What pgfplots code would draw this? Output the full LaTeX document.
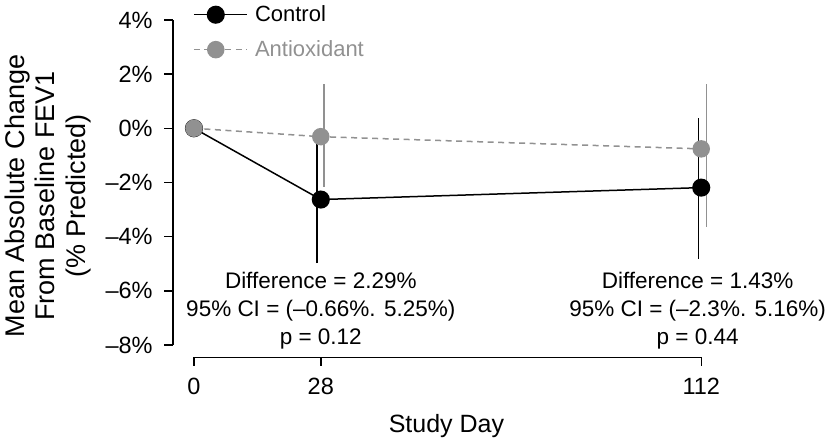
\documentclass[border=0pt]{standalone}
\usepackage{pgfplots}
\pgfplotsset{compat=1.18}
\usepackage{fontspec}
\setmainfont{Liberation Sans}
\definecolor{ctrl}{RGB}{0,0,0}
\definecolor{anti}{RGB}{145,145,145}
\newcommand{\fs}{\fontsize{22.5bp}{30bp}\selectfont}
\newcommand{\fl}{\fontsize{22bp}{30bp}\selectfont}
\newcommand{\ft}{\fontsize{23.5bp}{28bp}\selectfont}
\newcommand{\fx}{\fontsize{25bp}{30bp}\selectfont}
\newcommand{\fy}{\fontsize{27bp}{30.5bp}\selectfont}
\begin{document}
\begin{tikzpicture}
\useasboundingbox (0,0) rectangle (828bp,-438bp);
\begin{axis}[
  at={(172.7bp,-357.3bp)}, anchor=south west,
  x=4.529bp, y=27.09bp,
  xmin=-4.7, xmax=125, ymin=-8.454, ymax=4.3,
  clip=false,
  axis x line*=bottom, axis y line*=left,
  axis line style={draw=none},
  tick align=outside, major tick length=8.6bp,
  tick style={black, line width=1.4bp},
  xtick={0,28,112}, xticklabels={0,28,112},
  ytick={-8,-6,-4,-2,0,2,4},
  yticklabels={–8\%,–6\%,–4\%,–2\%,0\%,2\%,4\%},
  tick label style={font=\ft},
  xticklabel style={yshift=-8.5bp},
  yticklabel style={xshift=-8bp},
  xlabel={Study Day},
  xlabel style={font=\fx, at={(axis description cs:0.466,-0.2162)}, anchor=base},
  ylabel={Mean Absolute Change\\From Baseline FEV1\\(\% Predicted)},
  ylabel style={font=\fy, at={(axis description cs:-0.2123,0.467)}, anchor=center, align=center},
  legend style={draw=none, fill=none, at={(axis description cs:0.0346,1.0168)}, anchor=north west,
    inner sep=0pt, outer sep=0pt, row sep=17.5bp, font=\fl,
    nodes={inner sep=0pt, anchor=west},
    /tikz/every odd column/.append style={column sep=7.5bp}},
  legend cell align=left,
  legend image code/.code={\draw[mark repeat=2,mark phase=2,#1] plot coordinates {(0bp,0bp) (22bp,0bp) (53bp,0bp)};},
]
% error bars
\addplot[ctrl, line width=1.4bp, forget plot] coordinates {(27.2,-4.98) (27.2,-0.28)};
\addplot[ctrl, line width=1.4bp, forget plot] coordinates {(111.4,-4.82) (111.4,0.37)};
\addplot[anti, line width=1.4bp, forget plot] coordinates {(28.7,-2.16) (28.7,1.62)};
\addplot[anti, line width=1.4bp, forget plot] coordinates {(113.2,-3.63) (113.2,1.64)};
% means
\addplot[ctrl, line width=1.5bp, mark=*, mark size=8.3bp, mark options={solid, fill=ctrl, draw=ctrl}]
  coordinates {(0,0) (28,-2.63) (112,-2.19)};
\addlegendentry{Control}
\addplot[anti, line width=1.5bp, dash pattern=on 6bp off 4.5bp, mark=*, mark size=8bp, mark options={solid, fill=anti, draw=anti}]
  coordinates {(0,0) (28,-0.31) (112,-0.76)};
\addlegendentry{\textcolor{anti}{Antioxidant}}
% axis lines
\draw[line width=1.6bp] (axis cs:-4.7,-8) -- (axis cs:-4.7,4);
\draw[line width=1.6bp] (axis cs:0,-8.454) -- (axis cs:112,-8.454);
% annotations
\node[font=\fs, anchor=base] at (axis cs:28,-5.932) {Difference = 2.29\%};
\node[font=\fs, anchor=base] at (axis cs:28,-6.966) {95\% CI = (–0.66\%. 5.25\%)};
\node[font=\fs, anchor=base] at (axis cs:28,-7.963) {p = 0.12};
\node[font=\fs, anchor=base] at (axis cs:111.2,-5.932) {Difference = 1.43\%};
\node[font=\fs, anchor=base] at (axis cs:111.2,-6.966) {95\% CI = (–2.3\%. 5.16\%)};
\node[font=\fs, anchor=base] at (axis cs:111.2,-7.963) {p = 0.44};
\end{axis}
\end{tikzpicture}
\end{document}
